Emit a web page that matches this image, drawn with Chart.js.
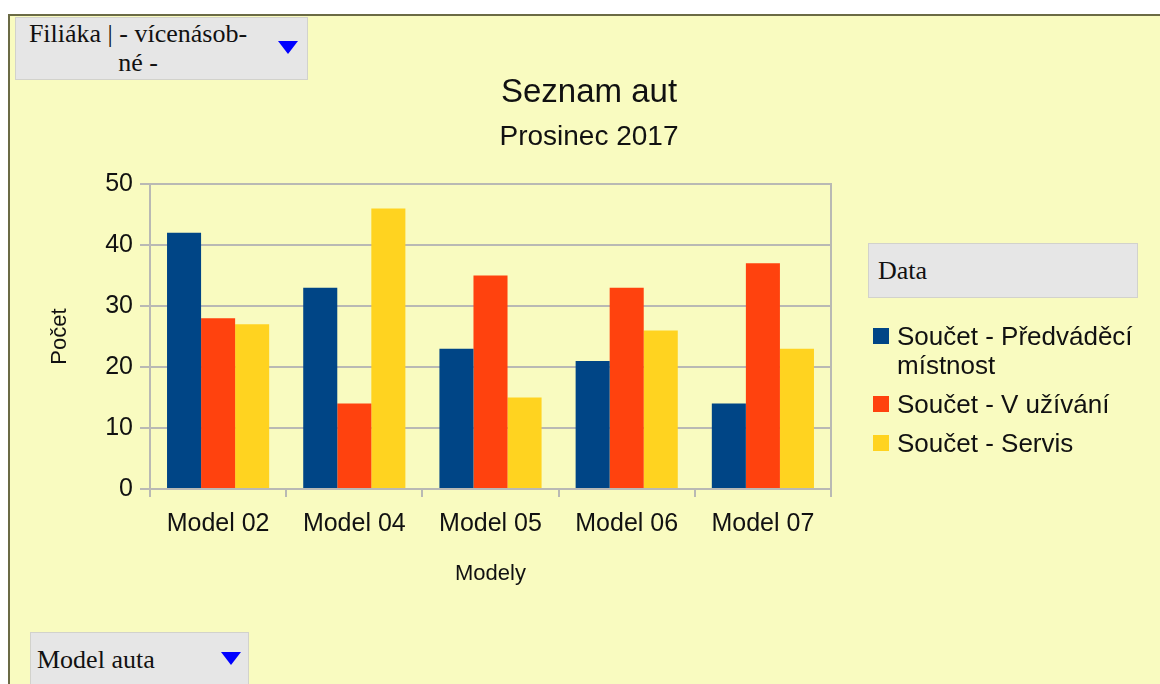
<!DOCTYPE html>
<html lang="cs">
<head>
<meta charset="utf-8">
<title>Seznam aut</title>
<script src="https://cdn.jsdelivr.net/npm/chart.js@4/dist/chart.umd.min.js"></script>
<style>
  html, body { margin: 0; padding: 0; background: #ffffff; }
  body { width: 1160px; height: 684px; position: relative; overflow: hidden; }
  #sheet {
    position: absolute; left: 8px; top: 14px; right: 0; bottom: 0;
    background: #f9fbc0;
    border-left: 2px solid #6b6b45; border-top: 2px solid #6b6b45;
  }
  #chart { position: absolute; left: 0; top: 0; }
  .field {
    position: absolute; background: #e6e6e6; border: 1px solid #d2d2cc;
    font-family: 'Liberation Serif', 'Times New Roman', serif; font-size: 26px;
    color: #111; box-sizing: border-box;
  }
  .field .arrow {
    position: absolute; width: 0; height: 0;
    border-left: 10px solid transparent; border-right: 10px solid transparent;
    border-top: 13px solid #0000ff;
  }
  #filter { left: 15px; top: 17px; width: 293px; height: 63px; }
  #filter .label { position: absolute; left: 0; top: 1px; width: 244px; text-align: center; line-height: 29px; }
  #rowfield { left: 30px; top: 632px; width: 219px; height: 60px; }
  #rowfield .label { position: absolute; left: 6px; top: 12px; line-height: 29px; }
  #datafield { left: 868px; top: 243px; width: 270px; height: 55px; }
  #datafield .label { position: absolute; left: 9px; top: 12px; line-height: 29px; }
  #legend {
    position: absolute; left: 873px; top: 322px; width: 270px;
    font-family: 'Liberation Sans', Arial, sans-serif; font-size: 26px; color: #111;
  }
  #legend .item { position: relative; padding-left: 24px; line-height: 29px; margin-bottom: 10px; width: 240px; }
  #legend .swatch { position: absolute; left: 0; top: 6px; width: 16px; height: 16px; }
</style>
</head>
<body>
<div id="sheet"></div>
<canvas id="chart" width="1160" height="684"></canvas>
<div id="filter" class="field"><div class="label">Filiáka | - vícenásob-<br>né -</div><div class="arrow" style="left:262px;top:23px"></div></div>
<div id="rowfield" class="field"><div class="label">Model auta</div><div class="arrow" style="left:190px;top:19px"></div></div>
<div id="datafield" class="field"><div class="label">Data</div></div>
<div id="legend"></div>
<script>
// Car counts per model, split by where the cars currently are
const categories = ['Model 02', 'Model 04', 'Model 05', 'Model 06', 'Model 07'];
const seriesNames = ['Součet - Předváděcí místnost', 'Součet - V užívání', 'Součet - Servis'];
const showroom = [42, 33, 23, 21, 14];
const inUse = [28, 14, 35, 33, 37];
const service = [27, 46, 15, 26, 23];
const seriesColors = ['#004586', '#ff420e', '#ffd320'];
const yMin = 0, yMax = 50, yStep = 10;

const gridColor = '#b9b9b4';
const textColor = '#111111';

Chart.defaults.font.family = "'Liberation Sans', Arial, sans-serif";
Chart.defaults.color = textColor;

const seriesValues = [showroom, inUse, service];

const chart = new Chart(document.getElementById('chart'), {
  type: 'bar',
  data: {
    labels: categories,
    datasets: seriesValues.map((vals, i) => ({
      label: seriesNames[i],
      data: vals,
      backgroundColor: seriesColors[i],
      borderWidth: 0,
      categoryPercentage: 0.75,
      barPercentage: 1.0
    }))
  },
  options: {
    responsive: false,
    animation: false,
    devicePixelRatio: 1,
    layout: { padding: { left: 18, right: 0, top: 0, bottom: 0 } },
    plugins: {
      legend: { display: false },
      tooltip: { enabled: false },
      title: {
        display: true, text: 'Seznam aut', color: textColor,
        font: { size: 33, weight: 'normal', lineHeight: 1.2 },
        padding: { top: 73, bottom: 0 }
      },
      subtitle: {
        display: true, text: 'Prosinec 2017', color: textColor,
        font: { size: 28, weight: 'normal', lineHeight: 1.2 },
        padding: { top: 7.6, bottom: 30.2 }
      }
    },
    scales: {
      x: {
        grid: { display: true, drawOnChartArea: false, offset: true, tickLength: 8, color: gridColor, lineWidth: 2 },
        border: { display: true, color: gridColor, width: 2 },
        ticks: { font: { size: 25 }, padding: 12, color: textColor },
        title: { display: true, text: 'Modely', font: { size: 22 }, padding: { top: 0, bottom: 97 }, color: textColor },
        afterFit: s => { s.height = 195; }
      },
      y: {
        min: yMin, max: yMax,
        grid: { color: gridColor, lineWidth: 2, tickLength: 10 },
        border: { display: true, color: gridColor, width: 2 },
        ticks: { stepSize: yStep, font: { size: 25 }, padding: 7, color: textColor },
        title: { display: true, text: 'Počet', font: { size: 22 }, padding: { top: 29, bottom: 0 }, color: textColor },
        afterFit: s => { s.width = 132; }
      },
      frame: {
        type: 'linear', position: 'right', display: true,
        grid: { display: false, drawTicks: false },
        border: { display: true, color: gridColor, width: 2 },
        ticks: { display: false },
        afterFit: s => { s.width = 329; }
      }
    }
  }
});

// Legend beside the plot, built from the chart's own datasets
const legendEl = document.getElementById('legend');
chart.data.datasets.forEach(ds => {
  const item = document.createElement('div');
  item.className = 'item';
  const sw = document.createElement('span');
  sw.className = 'swatch';
  sw.style.background = ds.backgroundColor;
  item.appendChild(sw);
  item.appendChild(document.createTextNode(ds.label));
  legendEl.appendChild(item);
});
</script>
</body>
</html>
